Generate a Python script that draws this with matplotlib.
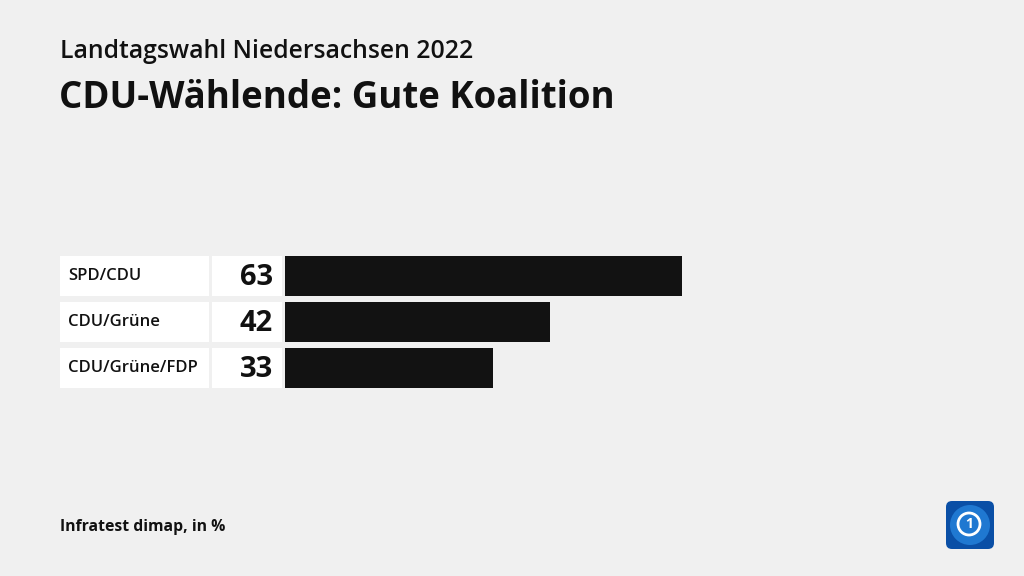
import matplotlib.pyplot as plt
from matplotlib.patches import FancyBboxPatch, Circle

# data
labels = ["SPD/CDU", "CDU/Grüne", "CDU/Grüne/FDP"]
values = [63, 42, 33]

subtitle = "Landtagswahl Niedersachsen 2022"
title = "CDU-Wählende: Gute Koalition"
source = "Infratest dimap, in %"

bg = "#f0f0f0"
bar_color = "#121212"

fig = plt.figure(figsize=(10.24, 5.76), dpi=100)
fig.patch.set_facecolor(bg)
plt.rcParams['font.family'] = ['Open Sans', 'DejaVu Sans']

# axes spanning the full width, 6.3 px per unit, zero at x=285px
scale = 6.3
x0 = 285
ax = fig.add_axes([0, (576 - 391) / 576, 1, 138 / 576])
ax.set_facecolor(bg)
ax.set_xlim(-x0 / scale, (1024 - x0) / scale)
ax.set_ylim(len(values) - 0.5, -0.5)
ax.axis("off")

ys = range(len(values))
h = 40 / 46
# white label cells and value cells
ax.barh(ys, 149 / scale, left=(60 - x0) / scale, height=h, color="white")
ax.barh(ys, 70 / scale, left=(212 - x0) / scale, height=h, color="white")
ax.barh(ys, values, left=0, height=h, color=bar_color)

for y, lab, v in zip(ys, labels, values):
    ax.text((68 - x0) / scale, y, lab, ha="left", va="center",
            fontsize=12, fontweight="semibold", color="#111")
    ax.text((273 - x0) / scale, y + 0.03, str(v), ha="right", va="center",
            fontsize=21, fontweight="bold", color="#111")

fig.text(60 / 1024, 1 - 52 / 576, subtitle, ha="left", va="center",
         fontsize=17.8, fontweight="semibold", color="#111")
fig.text(59 / 1024, 1 - 98 / 576, title, ha="left", va="center",
         fontsize=26.4, fontweight="bold", color="#111")
fig.text(60 / 1024, 1 - 527 / 576, source, ha="left", va="center",
         fontsize=11.3, fontweight="bold", color="#111")

# logo
lax = fig.add_axes([945 / 1024, (576 - 550) / 576, 50 / 1024, 50 / 576])
lax.set_xlim(0, 1)
lax.set_ylim(0, 1)
lax.axis("off")
lax.add_patch(FancyBboxPatch((0.02, 0.02), 0.96, 0.96,
                             boxstyle="round,pad=0,rounding_size=0.12",
                             facecolor="#0a4fa6", edgecolor="none"))
lax.add_patch(Circle((0.5, 0.5), 0.4, facecolor="#1f78d1", edgecolor="none"))
lax.add_patch(Circle((0.48, 0.52), 0.22, facecolor="none", edgecolor="white", lw=2))
lax.text(0.48, 0.51, "1", ha="center", va="center", color="white",
         fontsize=10, fontweight="bold")

fig.savefig("out.png", dpi=100, facecolor=bg)
